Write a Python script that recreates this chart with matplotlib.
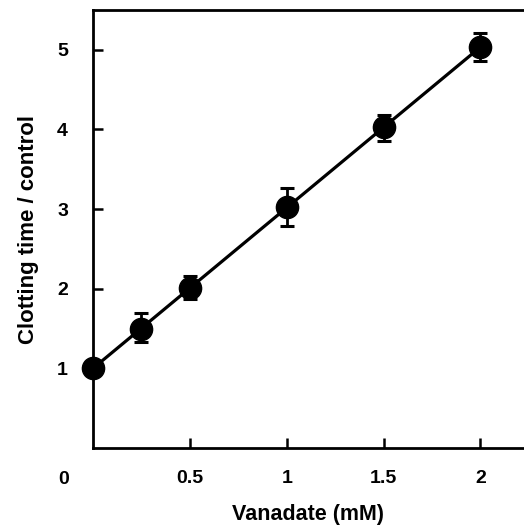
import numpy as np
import matplotlib
matplotlib.use('Agg')
import matplotlib.pyplot as plt

# 数据
vanadate = [0.0, 0.25, 0.5, 1.0, 1.5, 2.0]
clot_ratio = [1.0, 1.50, 2.01, 3.02, 4.03, 5.03]
err_up = [0.0, 0.19, 0.15, 0.24, 0.15, 0.18]
err_down = [0.0, 0.17, 0.14, 0.23, 0.17, 0.17]
xtick_vals = [0.5, 1, 1.5, 2]
xtick_labels = ['0.5', '1', '1.5', '2']
ytick_vals = [1, 2, 3, 4, 5]

plt.rcParams['font.family'] = ['Liberation Sans', 'DejaVu Sans']
plt.rcParams['font.weight'] = 'bold'

fig = plt.figure(figsize=(5.24, 5.26), dpi=100)
W, H = 524, 526
ax = fig.add_axes([93 / W, (H - 448) / H, (W - 93) / W, (448 - 10) / H])

# 线性拟合
k, b = np.polyfit(vanadate, clot_ratio, 1)
xs = np.array([vanadate[0], vanadate[-1]])
ax.plot(xs, k * xs + b, color='black', lw=2.3, zorder=2)

ax.errorbar(vanadate, clot_ratio, yerr=[err_down, err_up], fmt='o',
            color='black', ms=16, ecolor='black', elinewidth=2,
            capsize=5, capthick=2.2, clip_on=False, zorder=3)

ax.set_xlim(0, 2.225)
ax.set_ylim(0, 5.5)
ax.set_xticks(xtick_vals)
ax.set_xticklabels(xtick_labels)
ax.set_yticks(ytick_vals)
ax.tick_params(direction='in', length=7, width=1.8, labelsize=14)
ax.tick_params(axis='x', pad=16)
ax.tick_params(axis='y', pad=18)
for lab in ax.get_xticklabels() + ax.get_yticklabels():
    lab.set_fontweight('bold')

for side in ['left', 'bottom', 'top']:
    ax.spines[side].set_linewidth(2)
ax.spines['right'].set_visible(False)

# 原点 "0"
ax.annotate('0', xy=(0, 0), xytext=(-21, -22.5), textcoords='offset points',
            ha='center', va='center', fontsize=14, fontweight='bold')

ax.set_xlabel('Vanadate (mM)', fontsize=15.5, fontweight='bold', labelpad=12)
ax.set_ylabel('Clotting time / control', fontsize=16, fontweight='bold', labelpad=13)

fig.savefig('out.png', dpi=100)
